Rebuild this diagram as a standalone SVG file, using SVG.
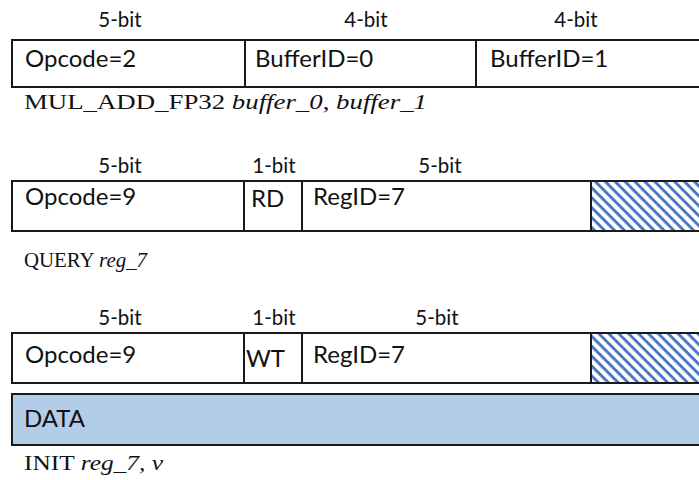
<svg xmlns="http://www.w3.org/2000/svg" width="699" height="480" viewBox="0 0 699 480">
  <style>
    .field { fill: #ffffff; stroke: #1a1a1a; stroke-width: 2; }
    .data { fill: #b3cde9; stroke: #1a1a1a; stroke-width: 2; }
    .hatch { fill: url(#diag); stroke: #1a1a1a; stroke-width: 2; }
    .lbl { font-family: Lato, "Open Sans", "DejaVu Sans", sans-serif; font-size: 24px; fill: #111; }
    .bits { font-family: Lato, "Open Sans", "DejaVu Sans", sans-serif; font-size: 20.5px; fill: #111; text-anchor: middle; }
    .cap { font-family: "Liberation Serif", "Times New Roman", serif; font-size: 22px; fill: #111; }
    .cap tspan.arg { font-style: italic; }
  </style>
  <defs>
    <pattern id="diag" patternUnits="userSpaceOnUse" width="7" height="7" patternTransform="rotate(45)">
      <rect x="0" y="0" width="7" height="7" fill="#ffffff"/>
      <rect x="0" y="0" width="7" height="2.8" fill="#4472c4"/>
    </pattern>
  </defs>

  <!-- MUL_ADD_FP32 instruction word -->
  <g id="mul-add">
    <text class="bits" x="120" y="27">5-bit</text>
    <text class="bits" x="366" y="27">4-bit</text>
    <text class="bits" x="576" y="27">4-bit</text>
    <rect class="field" x="12" y="40" width="233" height="47"/>
    <rect class="field" x="245" y="40" width="231" height="47"/>
    <rect class="field" x="476" y="40" width="240" height="47"/>
    <text class="lbl" x="25" y="67">Opcode=2</text>
    <text class="lbl" x="255" y="67">BufferID=0</text>
    <text class="lbl" x="490" y="67">BufferID=1</text>
    <text class="cap" x="24" y="109" textLength="403" lengthAdjust="spacingAndGlyphs">MUL_ADD_FP32 <tspan class="arg">buffer_0</tspan>, <tspan class="arg">buffer_1</tspan></text>
  </g>

  <!-- QUERY instruction word -->
  <g id="query">
    <text class="bits" x="120" y="173">5-bit</text>
    <text class="bits" x="274" y="173">1-bit</text>
    <text class="bits" x="440" y="173">5-bit</text>
    <rect class="field" x="12" y="181" width="232" height="50"/>
    <rect class="field" x="244" y="181" width="58" height="50"/>
    <rect class="field" x="302" y="181" width="289" height="50"/>
    <rect class="hatch" x="591" y="181" width="120" height="50"/>
    <text class="lbl" x="25" y="205">Opcode=9</text>
    <text class="lbl" x="251" y="207">RD</text>
    <text class="lbl" x="313" y="205">RegID=7</text>
    <text class="cap" x="24" y="267" textLength="123" lengthAdjust="spacingAndGlyphs">QUERY <tspan class="arg">reg_7</tspan></text>
  </g>

  <!-- INIT instruction word with data payload -->
  <g id="init">
    <text class="bits" x="120" y="325">5-bit</text>
    <text class="bits" x="274" y="325">1-bit</text>
    <text class="bits" x="437" y="325">5-bit</text>
    <rect class="field" x="12" y="333" width="232" height="50"/>
    <rect class="field" x="244" y="333" width="58" height="50"/>
    <rect class="field" x="302" y="333" width="289" height="50"/>
    <rect class="hatch" x="591" y="333" width="120" height="50"/>
    <text class="lbl" x="25" y="363">Opcode=9</text>
    <text class="lbl" x="246" y="367">WT</text>
    <text class="lbl" x="313" y="363">RegID=7</text>
  </g>

  <g id="data">
    <rect class="data" x="12" y="394" width="700" height="51"/>
    <text class="lbl" x="24" y="427">DATA</text>
    <text class="cap" x="24" y="470" textLength="139" lengthAdjust="spacingAndGlyphs">INIT <tspan class="arg">reg_7, v</tspan></text>
  </g>

  <g id="connectors"/>
</svg>
